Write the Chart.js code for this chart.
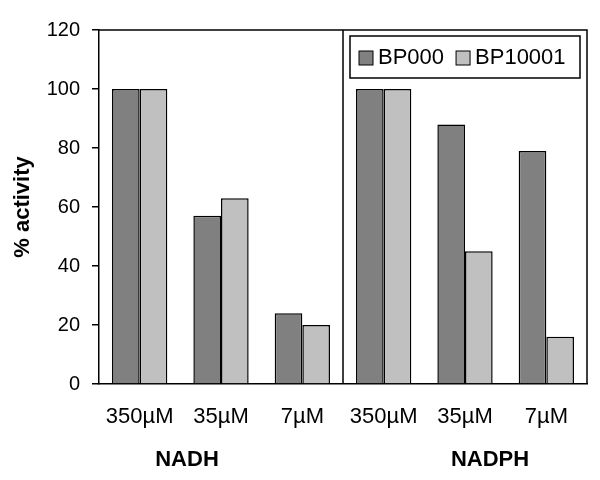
<!DOCTYPE html>
<html>
<head>
<meta charset="utf-8">
<script src="https://cdn.jsdelivr.net/npm/chart.js@4/dist/chart.umd.min.js"></script>
<style>
  html, body { margin: 0; padding: 0; background: #fff; }
  #wrap { width: 600px; height: 480px; }
</style>
</head>
<body>
<div id="wrap"><canvas id="chart" width="600" height="480"></canvas></div>
<script>
// data
const categories = ['350µM', '35µM', '7µM', '350µM', '35µM', '7µM'];
const groups = ['NADH', 'NADPH'];
const bp000 = [100, 57, 24, 100, 88, 79];
const bp10001 = [100, 63, 20, 100, 45, 16];
const yTicks = [0, 20, 40, 60, 80, 100, 120];

const FONT = '"Liberation Sans", Arial, Helvetica, sans-serif';

// box round the plot, divider between groups, group labels, legend
const framePlugin = {
    id: 'frame',
    afterDraw(chart) {
        const ctx = chart.ctx;
        const area = chart.chartArea;
        const x = chart.scales.x;

        ctx.save();
        ctx.strokeStyle = '#000';
        ctx.lineWidth = 1.5;
        ctx.beginPath();
        ctx.moveTo(area.left, area.top);
        ctx.lineTo(area.right, area.top);
        ctx.lineTo(area.right, area.bottom);
        const mid = (x.getPixelForValue(2) + x.getPixelForValue(3)) / 2;
        ctx.moveTo(mid, area.top);
        ctx.lineTo(mid, area.bottom);
        ctx.stroke();

        // group labels
        ctx.fillStyle = '#000';
        ctx.font = 'bold 22px ' + FONT;
        ctx.textAlign = 'center';
        ctx.textBaseline = 'middle';
        ctx.fillText(groups[0], x.getPixelForValue(1) - 34, 460);
        ctx.fillText(groups[1], x.getPixelForValue(4) + 25, 460);

        // legend
        const bx = area.right - 237, by = area.top + 6, bw = 230, bh = 42;
        ctx.lineWidth = 1.5;
        ctx.strokeRect(bx, by, bw, bh);
        ctx.font = '22px ' + FONT;
        ctx.textAlign = 'left';
        let lx = bx + 9;
        chart.data.datasets.forEach(ds => {
            ctx.fillStyle = ds.backgroundColor;
            ctx.fillRect(lx, by + 15, 14, 14);
            ctx.lineWidth = 1;
            ctx.strokeRect(lx, by + 15, 14, 14);
            ctx.fillStyle = '#000';
            ctx.fillText(ds.label, lx + 19, by + 22);
            lx += 19 + ctx.measureText(ds.label).width + 12;
        });
        ctx.restore();
    }
};

new Chart(document.getElementById('chart'), {
    type: 'bar',
    data: {
        labels: categories,
        datasets: [
            {
                label: 'BP000',
                data: bp000,
                backgroundColor: '#808080',
                borderColor: '#000',
                borderWidth: 1.5
            },
            {
                label: 'BP10001',
                data: bp10001,
                backgroundColor: '#c0c0c0',
                borderColor: '#000',
                borderWidth: 1.5
            }
        ]
    },
    options: {
        responsive: false,
        animation: false,
        devicePixelRatio: 1,
        layout: { padding: { left: 0, right: 13, top: 30, bottom: 0 } },
        datasets: {
            bar: { categoryPercentage: 0.68, barPercentage: 1 }
        },
        plugins: {
            legend: { display: false },
            tooltip: { enabled: false }
        },
        scales: {
            x: {
                grid: { display: false, drawTicks: false },
                border: { display: true, color: '#000', width: 1.5 },
                ticks: {
                    color: '#000',
                    padding: 20,
                    maxRotation: 0,
                    autoSkip: false,
                    font: { family: FONT, size: 22 }
                },
                afterFit(scale) { scale.height = 96; }
            },
            y: {
                min: 0,
                max: 120,
                afterBuildTicks(scale) {
                    scale.ticks = yTicks.map(v => ({ value: v }));
                },
                grid: {
                    drawOnChartArea: false,
                    drawTicks: true,
                    tickLength: 7,
                    color: '#000',
                    lineWidth: 1.5
                },
                border: { display: true, color: '#000', width: 1.5 },
                ticks: {
                    color: '#000',
                    padding: 12,
                    font: { family: FONT, size: 20 }
                },
                title: {
                    display: true,
                    text: '% activity',
                    color: '#000',
                    padding: { top: 10, bottom: 0 },
                    font: { family: FONT, size: 22, weight: 'bold' }
                },
                afterFit(scale) { scale.width = 99; }
            }
        }
    },
    plugins: [framePlugin]
});
</script>
</body>
</html>
